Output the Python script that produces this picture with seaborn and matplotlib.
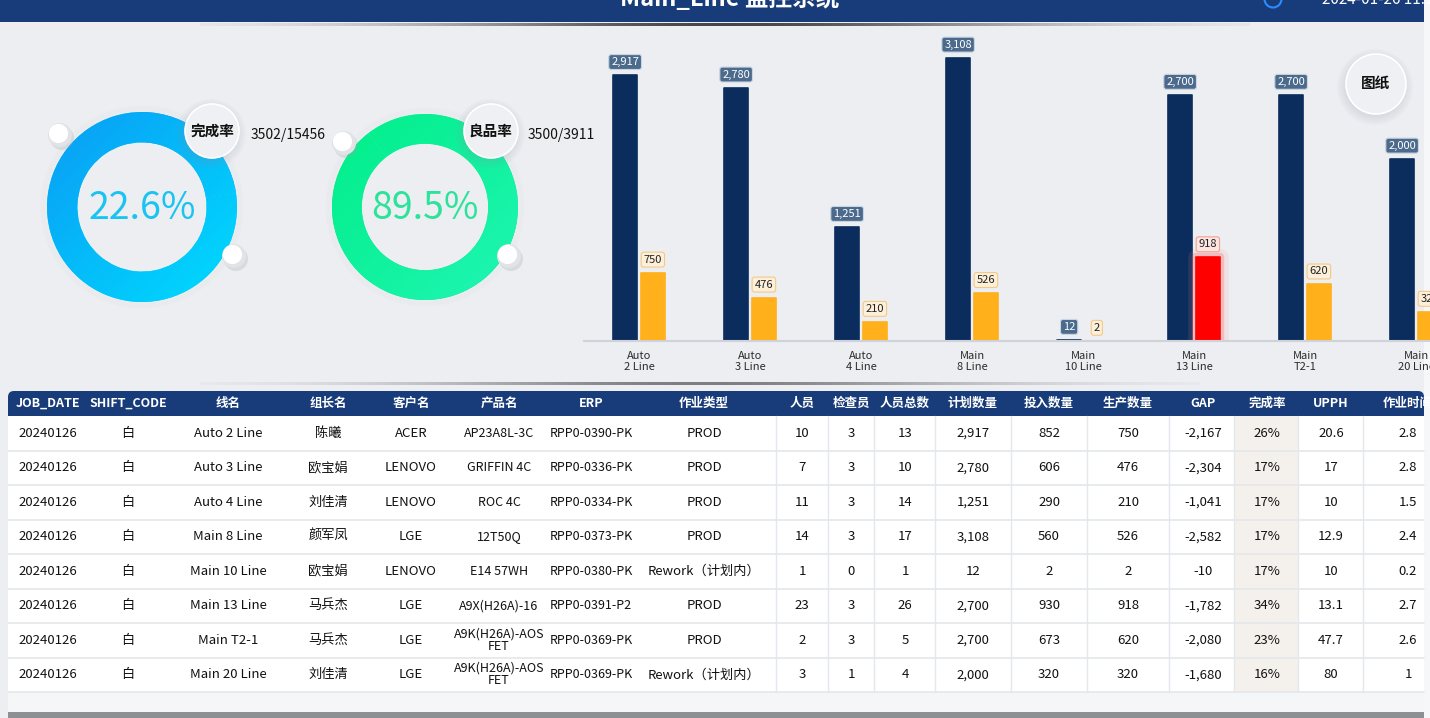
import numpy as np
import pandas as pd
import matplotlib
matplotlib.use('Agg')
import matplotlib.pyplot as plt
import matplotlib.patheffects as pe
from matplotlib.colors import LinearSegmentedColormap
from matplotlib.patches import Circle, Rectangle, FancyBboxPatch
import seaborn as sns

# ---- data ----
lines = ['Auto\n2 Line', 'Auto\n3 Line', 'Auto\n4 Line', 'Main\n8 Line',
         'Main\n10 Line', 'Main\n13 Line', 'Main\nT2-1', 'Main\n20 Line']
plan_qty = [2917, 2780, 1251, 3108, 12, 2700, 2700, 2000]
output_qty = [750, 476, 210, 526, 2, 918, 620, 320]
highlight_line = 'Main\n13 Line'

kpi_names = ['完成率', '良品率']
kpi_num = [3502, 3500]
kpi_den = [15456, 3911]
kpi_text = ['22.6%', '89.5%']

headers = ['JOB_DATE', 'SHIFT_CODE', '线名', '组长名', '客户名', '产品名', 'ERP', '作业类型',
           '人员', '检查员', '人员总数', '计划数量', '投入数量', '生产数量', 'GAP', '完成率', 'UPPH', '作业时间']
job_date = ['20240126'] * 8
shift_code = ['白'] * 8
line_name = ['Auto 2 Line', 'Auto 3 Line', 'Auto 4 Line', 'Main 8 Line',
             'Main 10 Line', 'Main 13 Line', 'Main T2-1', 'Main 20 Line']
leader = ['陈曦', '欧宝娟', '刘佳清', '颜军凤', '欧宝娟', '马兵杰', '马兵杰', '刘佳清']
customer = ['ACER', 'LENOVO', 'LENOVO', 'LGE', 'LENOVO', 'LGE', 'LGE', 'LGE']
product = ['AP23A8L-3C', 'GRIFFIN 4C', 'ROC 4C', '12T50Q', 'E14 57WH',
           'A9X(H26A)-16', 'A9K(H26A)-AOS\nFET', 'A9K(H26A)-AOS\nFET']
erp = ['RPP0-0390-PK', 'RPP0-0336-PK', 'RPP0-0334-PK', 'RPP0-0373-PK',
       'RPP0-0380-PK', 'RPP0-0391-P2', 'RPP0-0369-PK', 'RPP0-0369-PK']
job_type = ['PROD', 'PROD', 'PROD', 'PROD', 'Rework（计划内）', 'PROD', 'PROD', 'Rework（计划内）']
staff = [10, 7, 11, 14, 1, 23, 2, 3]
inspectors = [3, 3, 3, 3, 0, 3, 3, 1]
staff_total = [13, 10, 14, 17, 1, 26, 5, 4]
input_qty = [852, 606, 290, 560, 2, 930, 673, 320]
gap = [-2167, -2304, -1041, -2582, -10, -1782, -2080, -1680]
done_rate = ['26%', '17%', '17%', '17%', '17%', '34%', '23%', '16%']
upph = ['20.6', '17', '10', '12.9', '10', '13.1', '47.7', '80']
work_hours = ['2.8', '2.8', '1.5', '2.4', '0.2', '2.7', '2.6', '1']

# ---- style ----
sns.set_theme(style='white')
plt.rcParams['font.family'] = ['Noto Sans CJK SC', 'DejaVu Sans']

W, H = 1430, 718
BG = '#eceef1'
NAVY = '#0b2d5e'
ORANGE = '#ffb01a'
HEAD = '#183c79'

fig = plt.figure(figsize=(W / 100, H / 100), dpi=100)
fig.patch.set_facecolor(BG)


def px_axes(z):
    a = fig.add_axes([0, 0, 1, 1], zorder=z)
    a.set_xlim(0, W)
    a.set_ylim(H, 0)
    a.axis('off')
    a.patch.set_alpha(0)
    return a


bg = px_axes(0)

# header bar
bg.add_patch(Rectangle((0, 0), 1424, 22, color=HEAD, lw=0))
bg.text(730, 6, 'Main_Line 监控系统', color='white', fontsize=17, fontweight='bold',
        ha='center', va='baseline')
bg.text(1322, 4, '2024-01-26 11:17', color='white', fontsize=11, ha='left', va='baseline')
bg.add_patch(Circle((1273, -1), 8.5, fc='none', ec='#2a8cff', lw=1.5))
bg.add_patch(Rectangle((1424, 0), 6, H, color='#f6f7f9', lw=0))


def shade_line(y, x0, x1, strength):
    n = 400
    t = np.linspace(-1, 1, n)
    rgba = np.zeros((1, n, 4))
    rgba[..., :3] = 0.2
    rgba[0, :, 3] = strength * np.exp(-3 * t ** 2)
    bg.imshow(rgba, extent=(x0, x1, y + 2, y - 1), aspect='auto', zorder=1)


shade_line(24, 200, 1250, 0.9)
shade_line(383, 200, 1200, 0.6)
bg.set_xlim(0, W)
bg.set_ylim(H, 0)

# ---- table ----
col_x = [48, 128, 228, 328, 411, 499, 591, 704, 802, 851, 905, 973, 1049, 1128, 1203, 1267, 1331, 1408]
v_lines = [776, 828, 874, 935, 1011, 1087, 1169, 1234, 1298, 1363]
row_top, row_h = 416, 34.5
n_rows = len(job_date)
table_bottom = row_top + row_h * n_rows

bg.add_patch(FancyBboxPatch((8, 391), 1416, 24, boxstyle='round,pad=0,rounding_size=6',
                            fc=HEAD, ec='none'))
bg.add_patch(Rectangle((8, 403), 1416, 13, color=HEAD, lw=0))
bg.add_patch(Rectangle((8, row_top), 1416, row_h * n_rows, color='white', lw=0))
bg.add_patch(Rectangle((8, table_bottom), 1416, 712 - table_bottom, color='#f5f6f8', lw=0))
bg.add_patch(Rectangle((1234, row_top), 64, row_h * n_rows, color='#f4f1ec', lw=0))
bg.add_patch(Rectangle((8, 712), 1416, 6, color='#8c8f94', lw=0))
for xv in v_lines:
    bg.plot([xv, xv], [row_top, table_bottom], color='#e4e7eb', lw=1)
for i in range(1, n_rows + 1):
    yv = row_top + row_h * i
    bg.plot([8, 1424], [yv, yv], color='#e4e7eb', lw=1.2)

for x, h in zip(col_x, headers):
    bg.text(x, 403.5, h, color='white', fontsize=9, fontweight='bold', ha='center', va='center')

columns = [job_date, shift_code, line_name, leader, customer, product, erp, job_type,
           staff, inspectors, staff_total,
           [f'{v:,}' for v in plan_qty], [f'{v:,}' for v in input_qty],
           [f'{v:,}' for v in output_qty], [f'{v:,}' for v in gap],
           done_rate, upph, work_hours]
for k, (x, col) in enumerate(zip(col_x, columns)):
    fs = 9.0 if k in (5, 6) else 9.5
    for i, val in enumerate(col):
        bg.text(x, row_top + row_h * (i + 0.5), str(val), color='#111111', fontsize=fs,
                ha='center', va='center', linespacing=0.95)

# ---- bar chart ----
df = pd.DataFrame({
    'line': lines * 2,
    'qty': plan_qty + output_qty,
    'kind': ['plan'] * len(lines) + ['output'] * len(lines),
})
ax = fig.add_axes([583.5 / W, (H - 341) / H, 888 / W, 310 / H], zorder=2)
ax.set_facecolor('none')
sns.barplot(data=df, x='line', y='qty', hue='kind', order=lines, hue_order=['plan', 'output'],
            palette=[NAVY, ORANGE], width=0.5, gap=0.15, saturation=1, linewidth=0,
            legend=False, ax=ax)
ax.set_ylim(0, 3400)
ax.set_xlim(-0.5, 7.5)
ax.set_xlabel('')
ax.set_ylabel('')
ax.set_yticks([])
ax.tick_params(axis='x', length=0, pad=7, labelsize=8, labelcolor='#2b2b2b')
for lab in ax.get_xticklabels():
    lab.set_linespacing(1.15)
sns.despine(ax=ax, left=True)
ax.spines['bottom'].set_color('#cfd3d9')
ax.spines['bottom'].set_linewidth(1.5)

# slightly rounded bar corners
for cont in ax.containers:
    for bar in cont:
        bar.set_edgecolor(bar.get_facecolor())
        bar.set_linewidth(1.2)
        bar.set_joinstyle('round')

hi = lines.index(highlight_line)
red_bar = ax.containers[1][hi]
red_bar.set_facecolor('#ff0000')
red_bar.set_edgecolor('#ff0000')
red_bar.set_path_effects([pe.Stroke(linewidth=12, foreground='#ff8080', alpha=0.12),
                          pe.Stroke(linewidth=6, foreground='#ff5050', alpha=0.25),
                          pe.Normal()])

styles = [('#4b6a8c', '#c9d5e2', 'white'), ('#fdf0da', '#f5c886', '#222222')]
for cont, (fc, ec, tc) in zip(ax.containers, styles):
    for j, bar in enumerate(cont):
        v = bar.get_height()
        f, e = fc, ec
        if cont is ax.containers[1] and j == hi:
            f, e = '#fde6e1', '#f2a093'
        ax.annotate(f'{int(v):,}', (bar.get_x() + bar.get_width() / 2, v),
                    xytext=(0, 13), textcoords='offset pixels', ha='center', va='center',
                    fontsize=8, color=tc, annotation_clip=False,
                    bbox=dict(boxstyle='round,pad=0.22', fc=f, ec=e, lw=0.8))

# ---- donuts ----
ring_colors = [('#0a9cf4', '#00dcff'), ('#00ee88', '#20f6b4')]
text_colors = ['#19c3f2', '#2de39b']
centers = [(142, 207, 95), (425, 207, 93)]
n = 200
grad = np.add.outer(np.linspace(0, 1, n), np.linspace(0, 1, n)) / 2
for (cx, cy, r), num, den, (c0, c1), tcol, label in zip(centers, kpi_num, kpi_den,
                                                         ring_colors, text_colors, kpi_text):
    size = 2.5 * r
    a = fig.add_axes([(cx - size / 2) / W, (H - cy - size / 2) / H, size / W, size / H], zorder=3)
    wedges, _ = a.pie([num, den - num], radius=1, startangle=90, counterclock=False,
                      colors=[c0, c1], wedgeprops=dict(width=0.32, linewidth=0))
    cmap = LinearSegmentedColormap.from_list('ring', [c0, c1])
    for w in wedges:
        im = a.imshow(grad, extent=(-1, 1, -1, 1), cmap=cmap, zorder=3)
        im.set_clip_path(w)
    # soft glow around the ring
    for k in range(4):
        a.add_patch(Circle((0, 0), 1 + 0.015 * (k + 1), fc='none', ec='#d2d6dd',
                           lw=1.5, alpha=0.06, zorder=1))
    a.set_xlim(-1.25, 1.25)
    a.set_ylim(-1.25, 1.25)
    a.axis('off')
    a.text(0, -0.02, label, color=tcol, fontsize=27, ha='center', va='center')

# ---- glass circles & labels ----
top = px_axes(5)


def glass(x, y, r):
    for k in range(6):
        top.add_patch(Circle((x - 1, y + 3), r + k * 1.6, color='#8f96a3', alpha=0.035, lw=0))
    top.add_patch(Circle((x, y), r, fc='#eff0f3', ec='white', lw=1.2))


def sphere(x, y, r=12):
    top.add_patch(Circle((x + 2, y + 3), r, color='#9aa0aa', alpha=0.25, lw=0))
    top.add_patch(Circle((x, y), r, fc='#e1e3e7', lw=0))
    top.add_patch(Circle((x - 1.5, y - 1.5), r * 0.8, fc='white', lw=0))


for (x, y) in [(60, 135), (234, 256), (344, 143), (509, 256)]:
    sphere(x, y)

label_pos = [(212, 131), (491, 131)]
num_pos = [(288, 135), (561, 135)]
for (lx, ly), (nx, ny), name, num, den in zip(label_pos, num_pos, kpi_names, kpi_num, kpi_den):
    glass(lx, ly, 27)
    top.text(lx, ly, name, fontsize=10.5, fontweight='bold', ha='center', va='center', color='#111111')
    top.text(nx, ny, f'{num}/{den}', fontsize=10, fontweight='medium', ha='center', va='center',
             color='#111111')

glass(1376, 84, 30)
top.text(1376, 83, '图纸', fontsize=10.5, fontweight='bold', ha='center', va='center', color='#111111')

fig.savefig('out.png', dpi=100, facecolor=fig.get_facecolor())
